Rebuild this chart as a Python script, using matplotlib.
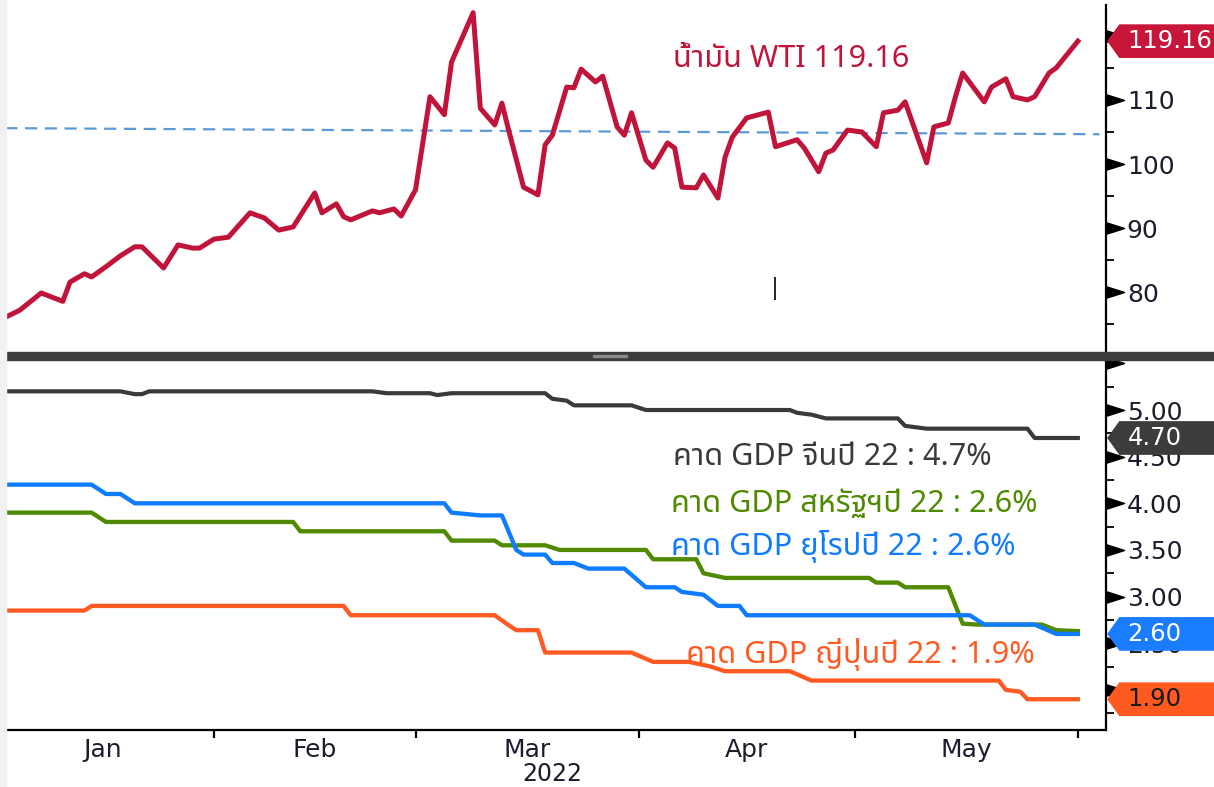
import numpy as np
import pandas as pd
import matplotlib
matplotlib.use('Agg')
import matplotlib.pyplot as plt
import matplotlib.dates as mdates
from matplotlib import font_manager, ticker
from matplotlib.ft2font import FT2Font
from matplotlib.path import Path
from matplotlib.patches import Rectangle

# WTI crude, vertices
wti_dates = ['2022-01-03', '2022-01-05', '2022-01-08', '2022-01-11', '2022-01-12', '2022-01-14',
             '2022-01-15', '2022-01-17', '2022-01-19', '2022-01-21', '2022-01-22', '2022-01-25',
             '2022-01-27', '2022-01-29', '2022-01-30', '2022-02-01', '2022-02-03', '2022-02-06',
             '2022-02-08', '2022-02-10', '2022-02-12', '2022-02-15', '2022-02-16', '2022-02-18',
             '2022-02-19', '2022-02-20', '2022-02-23', '2022-02-24', '2022-02-26', '2022-02-27',
             '2022-03-01', '2022-03-03', '2022-03-05', '2022-03-06', '2022-03-09', '2022-03-10',
             '2022-03-12', '2022-03-13', '2022-03-14', '2022-03-16', '2022-03-18', '2022-03-19',
             '2022-03-20', '2022-03-22', '2022-03-23', '2022-03-24', '2022-03-26', '2022-03-27',
             '2022-03-29', '2022-03-30', '2022-03-31', '2022-04-02', '2022-04-03', '2022-04-05',
             '2022-04-06', '2022-04-07', '2022-04-09', '2022-04-10', '2022-04-12', '2022-04-13',
             '2022-04-14', '2022-04-16', '2022-04-19', '2022-04-20', '2022-04-23', '2022-04-24',
             '2022-04-26', '2022-04-27', '2022-04-28', '2022-04-30', '2022-05-02', '2022-05-04',
             '2022-05-05', '2022-05-07', '2022-05-08', '2022-05-11', '2022-05-12', '2022-05-14',
             '2022-05-15', '2022-05-16', '2022-05-19', '2022-05-20', '2022-05-22', '2022-05-23',
             '2022-05-25', '2022-05-26', '2022-05-28', '2022-05-29', '2022-06-01']
wti_vals = [76.1, 77.2, 79.9, 78.6, 81.6, 82.9,
            82.4, 84.0, 85.7, 87.1, 87.1, 83.8,
            87.4, 86.9, 86.9, 88.3, 88.6, 92.4,
            91.6, 89.7, 90.2, 95.5, 92.4, 93.8,
            91.8, 91.3, 92.7, 92.4, 93.0, 91.9,
            96.0, 110.5, 107.7, 115.9, 123.6, 108.7,
            106.1, 109.5, 105.0, 96.4, 95.2, 103.0,
            104.5, 112.0, 111.9, 114.8, 112.8, 113.7,
            105.8, 104.5, 108.0, 100.6, 99.5, 103.3,
            102.5, 96.4, 96.3, 98.3, 94.7, 101.1,
            104.2, 107.2, 108.1, 102.7, 103.8, 102.5,
            98.8, 101.7, 102.2, 105.3, 105.0, 102.7,
            108.0, 108.4, 109.7, 100.2, 105.8, 106.4,
            110.5, 114.2, 109.7, 112.0, 113.3, 110.5,
            110.0, 110.5, 114.2, 115.0, 119.16]
wti_last = 119.16

trend_dates = ['2022-01-03', '2022-06-04']
trend_vals = [105.6, 104.65]

# GDP 2022 consensus forecasts (%)
china_dates = ['2022-01-03', '2022-01-19', '2022-01-21', '2022-01-22', '2022-01-23', '2022-02-23',
               '2022-02-25', '2022-03-03', '2022-03-04', '2022-03-06', '2022-03-19', '2022-03-20',
               '2022-03-22', '2022-03-23', '2022-03-31', '2022-04-02', '2022-04-22', '2022-04-23',
               '2022-04-25', '2022-04-27', '2022-05-07', '2022-05-08', '2022-05-11', '2022-05-25',
               '2022-05-26', '2022-06-01']
china_vals = [5.2, 5.2, 5.17, 5.17, 5.2, 5.2,
              5.18, 5.18, 5.16, 5.18, 5.18, 5.12,
              5.10, 5.05, 5.05, 5.0, 5.0, 4.97,
              4.95, 4.91, 4.91, 4.83, 4.8, 4.8,
              4.7, 4.7]

us_dates = ['2022-01-03', '2022-01-15', '2022-01-17', '2022-02-12', '2022-02-13', '2022-03-05',
            '2022-03-06', '2022-03-12', '2022-03-13', '2022-03-19', '2022-03-21', '2022-04-02',
            '2022-04-03', '2022-04-09', '2022-04-10', '2022-04-13', '2022-05-03', '2022-05-04',
            '2022-05-07', '2022-05-08', '2022-05-14', '2022-05-16', '2022-05-18', '2022-05-27',
            '2022-05-29', '2022-06-01']
us_vals = [3.9, 3.9, 3.8, 3.8, 3.7, 3.7,
           3.6, 3.6, 3.55, 3.55, 3.5, 3.5,
           3.4, 3.4, 3.25, 3.2, 3.2, 3.15,
           3.15, 3.1, 3.1, 2.71, 2.7, 2.7,
           2.64, 2.63]

eu_dates = ['2022-01-03', '2022-01-15', '2022-01-17', '2022-01-19', '2022-01-21', '2022-03-05',
            '2022-03-06', '2022-03-10', '2022-03-13', '2022-03-15', '2022-03-16', '2022-03-19',
            '2022-03-20', '2022-03-23', '2022-03-25', '2022-03-30', '2022-04-02', '2022-04-06',
            '2022-04-07', '2022-04-10', '2022-04-12', '2022-04-15', '2022-04-16', '2022-05-17',
            '2022-05-19', '2022-05-26', '2022-05-29', '2022-06-01']
eu_vals = [4.2, 4.2, 4.1, 4.1, 4.0, 4.0,
           3.9, 3.87, 3.87, 3.5, 3.45, 3.45,
           3.36, 3.36, 3.3, 3.3, 3.1, 3.1,
           3.05, 3.02, 2.9, 2.9, 2.8, 2.8,
           2.7, 2.7, 2.6, 2.6]

jp_dates = ['2022-01-03', '2022-01-14', '2022-01-15', '2022-02-19', '2022-02-20', '2022-03-12',
            '2022-03-14', '2022-03-15', '2022-03-18', '2022-03-19', '2022-03-31', '2022-04-03',
            '2022-04-08', '2022-04-11', '2022-04-13', '2022-04-22', '2022-04-25', '2022-05-21',
            '2022-05-22', '2022-05-24', '2022-05-25', '2022-06-01']
jp_vals = [2.85, 2.85, 2.9, 2.9, 2.8, 2.8,
           2.69, 2.64, 2.64, 2.4, 2.4, 2.3,
           2.3, 2.25, 2.2, 2.2, 2.1, 2.1,
           2.0, 1.98, 1.9, 1.9]

wti_ticks = [80, 90, 100, 110, 120]
wti_labels = ['80', '90', '100', '110', '']   # 120 sits under the price tag
gdp_ticks = [2.0, 2.5, 3.0, 3.5, 4.0, 4.5, 5.0, 5.5]
gdp_labels = ['', '2.50', '3.00', '3.50', '4.00', '4.50', '5.00', '']

RED = '#c0143a'
DARK = '#3a3a3a'
GREEN = '#4f8a00'
BLUE = '#0f7bff'
ORANGE = '#ff5a22'
TICKC = '#1c1c2e'


def find_thai_font():
    prefer = ['Noto Sans Thai', 'Noto Sans Thai Looped', 'Kanit', 'Prompt', 'Sarabun',
              'Loma', 'Garuda', 'Umpush', 'Waree', 'Sawasdee', 'Tlwg Typo', 'Norasi', 'Kinnari']
    found = {}
    for f in font_manager.fontManager.ttflist:
        try:
            cmap = FT2Font(f.fname).get_charmap()
        except Exception:
            continue
        if 0x0E01 in cmap and 0x0E33 in cmap:
            found.setdefault(f.name, f.fname)
    for name in prefer:
        if name in found:
            return name
    if found:
        return sorted(found)[0]
    return 'DejaVu Sans'


THAI = [find_thai_font(), 'DejaVu Sans']


def tag_box(x0, y0, width, height, mutation_size):
    """pointed price tag, runs off the right edge"""
    px, py = 0.34 * mutation_size, 0.2 * mutation_size
    x0, y0 = x0 - px, y0 - py
    w, h = width + 2 * px + 3 * mutation_size, height + 2 * py
    tip = 0.5 * mutation_size
    return Path([(x0 - tip, y0 + h / 2), (x0, y0 + h), (x0 + w, y0 + h),
                 (x0 + w, y0), (x0, y0), (x0 - tip, y0 + h / 2)], closed=True)


def add_tag(ax, value, text, fc, tc):
    ax.annotate(text, xy=(1, value), xycoords=('axes fraction', 'data'),
                xytext=(15.5, 0), textcoords='offset points', ha='left', va='center',
                fontsize=17.5, color=tc, annotation_clip=False, zorder=10,
                bbox=dict(boxstyle=tag_box, fc=fc, ec='none'))


def style_yaxis(ax, majors, labels, minor_step):
    ax.yaxis.tick_right()
    ax.yaxis.set_major_locator(ticker.FixedLocator(majors))
    ax.yaxis.set_major_formatter(ticker.FixedFormatter(labels))
    ax.yaxis.set_minor_locator(ticker.MultipleLocator(minor_step))
    ax.tick_params(axis='y', which='major', length=0, pad=15, labelsize=18, labelcolor=TICKC)
    ax.tick_params(axis='y', which='minor', length=6, width=1.3, color='black')
    tri = Path([(0, -0.32), (0, 0.32), (1, 0), (0, -0.32)], closed=True)
    ax.plot(np.ones(len(majors)), majors, ls='none', marker=tri, ms=26, color='black',
            transform=ax.get_yaxis_transform(), clip_on=False, zorder=5)
    for s in ['left', 'top']:
        ax.spines[s].set_visible(False)
    ax.spines['right'].set_linewidth(1.6)


fig = plt.figure(figsize=(12.14, 7.87), dpi=100, facecolor='white')
ax1 = fig.add_axes([0.00577, 1 - 352 / 787, 0.9053, 347 / 787])
ax2 = fig.add_axes([0.00577, 1 - 730 / 787, 0.9053, 370 / 787], sharex=ax1)

# top panel: WTI
ax1.plot(pd.to_datetime(trend_dates), trend_vals, color='#5b9bd5', lw=1.6, dashes=(5.5, 3.4))
ax1.plot(pd.to_datetime(wti_dates), wti_vals, color=RED, lw=3.6, solid_joinstyle='round')
ax1.vlines(pd.Timestamp('2022-04-20'), 78.8, 82.4, color='black', lw=1.2)
ax1.set_ylim(70.7, 124.8)
style_yaxis(ax1, wti_ticks, wti_labels, 5)
ax1.spines['bottom'].set_visible(False)
ax1.tick_params(axis='x', which='both', bottom=False, labelbottom=False)
ax1.text(pd.Timestamp('2022-04-05 18:00'), 115.2, 'น้ำมัน WTI 119.16', color=RED, fontsize=22,
         family=THAI, va='baseline', ha='left')
add_tag(ax1, wti_last, '119.16', '#c8163a', 'white')

# bottom panel: GDP forecasts
ax2.plot(pd.to_datetime(china_dates), china_vals, color=DARK, lw=3.0)
ax2.plot(pd.to_datetime(us_dates), us_vals, color=GREEN, lw=3.1)
ax2.plot(pd.to_datetime(eu_dates), eu_vals, color=BLUE, lw=3.1)
ax2.plot(pd.to_datetime(jp_dates), jp_vals, color=ORANGE, lw=3.1)
ax2.set_ylim(1.57, 5.536)
style_yaxis(ax2, gdp_ticks, gdp_labels, 0.25)
ax2.spines['bottom'].set_linewidth(1.6)

ax2.text(pd.Timestamp('2022-04-05 18:00'), 4.41, 'คาด GDP จีนปี 22 : 4.7%', color=DARK,
         fontsize=22, family=THAI, va='baseline')
ax2.text(pd.Timestamp('2022-04-05 12:00'), 3.91, 'คาด GDP สหรัฐฯปี 22 : 2.6%', color=GREEN,
         fontsize=22, family=THAI, va='baseline')
ax2.text(pd.Timestamp('2022-04-05 12:00'), 3.446, 'คาด GDP ยุโรปปี 22 : 2.6%', color=BLUE,
         fontsize=22, family=THAI, va='baseline')
ax2.text(pd.Timestamp('2022-04-07 12:00'), 2.285, 'คาด GDP ญี่ปุ่นปี 22 : 1.9%', color=ORANGE,
         fontsize=22, family=THAI, va='baseline')

add_tag(ax2, 4.70, '4.70', '#3c3c3c', 'white')
add_tag(ax2, 2.60, '2.60', '#1a7dff', 'white')
add_tag(ax2, 1.90, '1.90', '#ff5a1f', '#1a1a1a')

# month names centred between the month boundaries
month_starts = pd.date_range('2022-01-01', '2022-06-01', freq='MS')
month_mids = month_starts[:-1] + (month_starts[1:] - month_starts[:-1]) / 2
ax2.set_xlim(pd.Timestamp('2022-01-03 06:00'), pd.Timestamp('2022-06-04 22:00'))
ax2.xaxis.set_major_locator(ticker.FixedLocator(mdates.date2num(month_mids)))
ax2.xaxis.set_major_formatter(mdates.DateFormatter('%b'))
ax2.xaxis.set_minor_locator(mdates.MonthLocator())
ax2.tick_params(axis='x', which='major', length=0, pad=6, labelsize=18, labelcolor=TICKC)
ax2.tick_params(axis='x', which='minor', length=6, width=1.6, color='black', direction='out')
ax2.annotate('2022', xy=(pd.Timestamp('2022-03-20'), 0), xycoords=('data', 'axes fraction'),
             xytext=(0, -23), textcoords='offset points', ha='center', va='top',
             fontsize=17, color=TICKC, annotation_clip=False)

# divider bar between the panels and screenshot edges
fig.patches.append(Rectangle((0, 1 - 360 / 787), 1, 8 / 787, transform=fig.transFigure,
                             color='#3b3b3b', zorder=0))
fig.patches.append(Rectangle((593 / 1214, 1 - 357.5 / 787), 34 / 1214, 2.5 / 787,
                             transform=fig.transFigure, color='#8a8a8a', zorder=1))
fig.patches.append(Rectangle((0, 0), 6 / 1214, 1, transform=fig.transFigure,
                             color='#f1f1f1', zorder=0))

fig.savefig('out.png', dpi=100, facecolor='white')
